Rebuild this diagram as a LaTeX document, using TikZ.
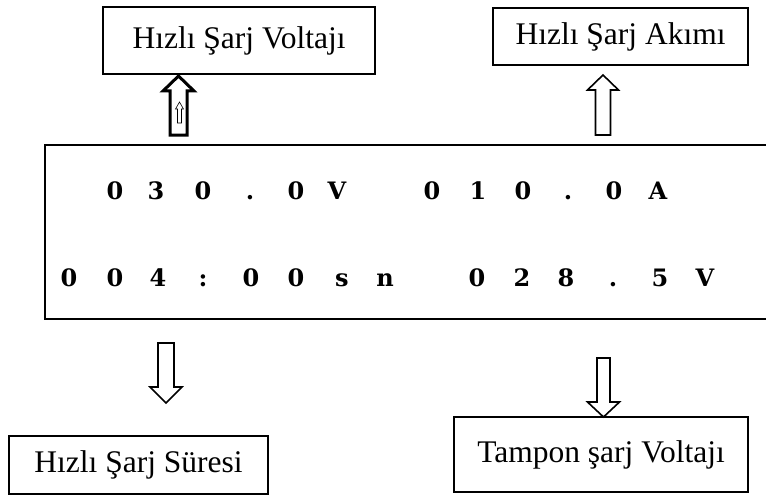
\documentclass[tikz,border=0pt]{standalone}
\usepackage{fontspec}
\setmainfont{Liberation Serif}
\newfontfamily\lcdfont{DejaVu Serif}
\begin{document}
\begin{tikzpicture}[x=1pt,y=-1pt,
  lbox/.style={draw, line width=1.6pt, inner sep=0pt, font=\fontsize{31.5}{36}\selectfont},
  digit/.style={anchor=base, inner sep=0pt, font=\lcdfont\bfseries\fontsize{24}{28}\selectfont},
  thinarrow/.style={draw, line width=1.6pt, fill=white, line join=miter},
  thickarrow/.style={draw, line width=3pt, fill=white, line join=miter}]
\useasboundingbox (0,0) rectangle (766,495);
% top boxes
\node[lbox, minimum width=272pt, minimum height=67pt] (volt) at (239,40.5) {Hızlı Şarj Voltajı};
\node[lbox, minimum width=255pt, minimum height=57pt] (akim) at (620.5,36.5) {Hızlı Şarj Akımı};
% bottom boxes
\node[lbox, minimum width=259pt, minimum height=58pt] (sure) at (138.5,465) {Hızlı Şarj Süresi};
\node[lbox, minimum width=294pt, minimum height=75pt] (tampon) at (601,454.5) {Tampon şarj Voltajı};
% main display
\node[draw, line width=2.2pt, minimum width=735pt, minimum height=174pt, inner sep=0pt] (lcd) at (412.5,232) {};
% row 1
\foreach \x/\c [count=\i] in {115/0,156/3,203/0,250/.,296/0,337/V,432/0,478/1,523/0,568/.,614/0,658/A}
  \node[digit] (ra\i) at (\x,199) {\c};
% row 2
\foreach \x/\c [count=\i] in {69/0,115/0,158/4,203/:,251/0,296/0,342/s,385/n,477/0,522/2,566/8,613/.,660/5,705/V}
  \node[digit] (rb\i) at (\x,286) {\c};
% arrow 1 (up, thick) with small inner arrow
\path[thickarrow] (178.5,76) -- (194,91) -- (187,91) -- (187,135) -- (170,135) -- (170,91) -- (163,91) -- cycle;
\path[draw, line width=0.6pt, fill=white] (179.5,102) -- (183.5,109) -- (181.5,109) -- (181.5,123) -- (177.5,123) -- (177.5,109) -- (175.5,109) -- cycle;
% arrow 2 (up)
\path[thinarrow] (603,75) -- (618.5,90) -- (610.5,90) -- (610.5,135) -- (595.5,135) -- (595.5,90) -- (587.5,90) -- cycle;
% arrow 3 (down)
\path[thinarrow] (166,403) -- (182,387) -- (174,387) -- (174,343) -- (158,343) -- (158,387) -- (150,387) -- cycle;
% arrow 4 (down)
\path[thinarrow] (603.5,417) -- (619.5,402) -- (610,402) -- (610,358) -- (597,358) -- (597,402) -- (587.5,402) -- cycle;
\end{tikzpicture}
\end{document}
